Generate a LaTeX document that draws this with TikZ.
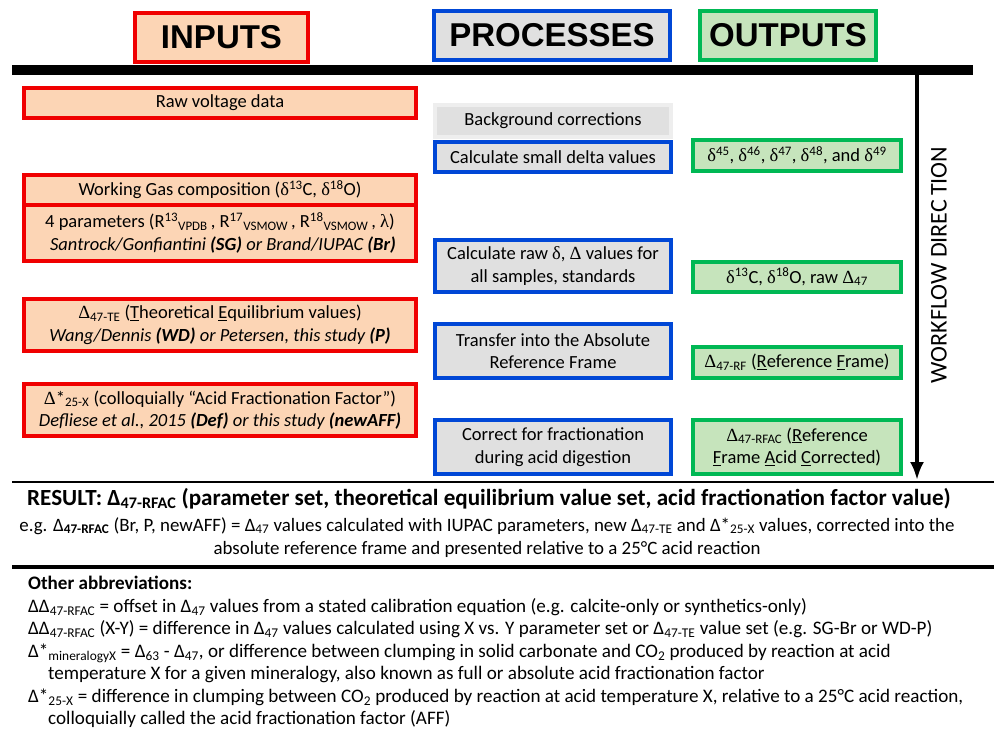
\documentclass[tikz,border=0pt]{standalone}
\usepackage{fontspec}
\setmainfont{Carlito}
\newfontfamily\headfont{Liberation Sans}
\newfontfamily\symfont{Liberation Serif}
\usetikzlibrary{arrows.meta}

\definecolor{inred}{RGB}{240,0,0}
\definecolor{infill}{RGB}{252,213,181}
\definecolor{problue}{RGB}{0,71,214}
\definecolor{profill}{RGB}{224,224,224}
\definecolor{outgreen}{RGB}{0,184,84}
\definecolor{outfill}{RGB}{198,228,188}
\definecolor{bgedge}{RGB}{238,238,238}

\newcommand{\sd}{{\symfont δ}}
\newcommand{\sD}{{\symfont Δ}}
\newcommand{\slam}{{\symfont λ}}
\newcommand{\bodysize}{\fontsize{18.5}{22.5}\selectfont}
\newcommand{\notesize}{\fontsize{19.1}{22.5}\selectfont}
\newcommand{\egsize}{\fontsize{18.9}{22.5}\selectfont}

\tikzset{
	box/.style={rectangle,line width=4pt,inner sep=0pt,align=center,font=\bodysize},
	inbox/.style={box,draw=inred,fill=infill,minimum width=392pt},
	probox/.style={box,draw=problue,fill=profill,minimum width=236pt},
	outbox/.style={box,draw=outgreen,fill=outfill,minimum width=208pt},
	headbox/.style={rectangle,line width=4pt,inner sep=0pt,minimum height=49pt,
		font=\headfont\bfseries\fontsize{33}{36}\selectfont},
	noteline/.style={anchor=base west,inner sep=0pt,font=\notesize},
}

\begin{document}
\begin{tikzpicture}[x=1pt,y=-1pt]
	\useasboundingbox (0,0) rectangle (994,729);

	% column headers
	\node[headbox,draw=inred,fill=infill,minimum width=173pt] (inputs) at (221.5,37) {INPUTS};
	\node[headbox,draw=problue,fill=profill,minimum width=236pt] (processes) at (552,35.5) {PROCESSES};
	\node[headbox,draw=outgreen,fill=outfill,minimum width=176pt] (outputs) at (788,35.5) {OUTPUTS};
	\draw[line width=10pt] (12,70) -- (973,70);

	% inputs
	\node[inbox,minimum height=30pt] (raw) at (220,103) {Raw voltage data};
	\node[inbox,minimum height=30pt] (wgas) at (220,190) {Working Gas composition (\sd\textsuperscript{13}C, \sd\textsuperscript{18}O)};
	\node[inbox,minimum height=56pt] (param) at (220,233) {4 parameters (R\textsuperscript{13}\textsubscript{VPDB}\,, R\textsuperscript{17}\textsubscript{VSMOW}\,, R\textsuperscript{18}\textsubscript{VSMOW}\,, \slam)\\
		\hspace*{6pt}\textit{Santrock/Gonfiantini \textbf{(SG)} or Brand/IUPAC \textbf{(Br)}}};
	\node[inbox,minimum height=52pt] (te) at (220,325) {\sD\textsubscript{47-TE} (\underline{T}heoretical \underline{E}quilibrium values)\\
		\textit{Wang/Dennis \textbf{(WD)} or Petersen, this study \textbf{(P)}}};
	\node[inbox,minimum height=52pt] (aff) at (220,410) {\sD*\textsubscript{25-X} (colloquially “Acid Fractionation Factor”)\\
		\textit{Defliese et al., 2015 \textbf{(Def)} or this study \textbf{(newAFF)}}};

	% processes
	\node[probox,draw=bgedge,minimum height=32pt] (bg) at (553,121) {Background corrections};
	\node[probox,minimum height=30pt] (small) at (553,157) {Calculate small delta values};
	\node[probox,minimum height=52pt] (rawd) at (553,266) {Calculate raw \sd, \sD\ values for\\ all samples, standards};
	\node[probox,minimum height=54pt] (transfer) at (553,351) {Transfer into the Absolute\\ Reference Frame};
	\node[probox,minimum height=54pt] (correct) at (553,447) {Correct for fractionation\\ during acid digestion};

	% outputs
	\node[outbox,minimum height=31pt] (d45) at (797,155.5) {\sd\textsuperscript{45}, \sd\textsuperscript{46}, \sd\textsuperscript{47}, \sd\textsuperscript{48}, and \sd\textsuperscript{49}};
	\node[outbox,minimum height=30pt] (d13) at (797,277) {\sd\textsuperscript{13}C, \sd\textsuperscript{18}O, raw \sD\textsubscript{47}};
	\node[outbox,minimum height=31pt] (rf) at (797,362.5) {\sD\textsubscript{47-RF} (\underline{R}eference \underline{F}rame)};
	\node[outbox,minimum height=54pt] (rfac) at (797,447) {\sD\textsubscript{47-RFAC} (\underline{R}eference\\ \underline{F}rame \underline{A}cid \underline{C}orrected)};

	% workflow arrow
	\coordinate (wtop) at (917,75);
	\coordinate (wend) at (917,480);
	\draw[line width=3.5pt,-{Latex[length=18pt,width=14pt]}] (wtop) -- (wend);
	\node[rotate=90,font=\fontsize{24}{28}\selectfont] (wdir) at (939,265) {WORKFLOW DIREC\,TION};

	\draw[line width=2.7pt] (12,482) -- (994,482);

	% result
	\node[anchor=base,inner sep=0pt,font=\bfseries\fontsize{23.1}{26}\selectfont] (result) at (489,505)
		{RESULT: Δ\textsubscript{47-RFAC} (parameter set, theoretical equilibrium value set, acid fractionation factor value)};
	\node[anchor=base,inner sep=0pt,font=\egsize] (eg1) at (487,531)
		{e.g. Δ\textsubscript{\textbf{47-RFAC}} (Br, P, newAFF) = Δ\textsubscript{47} values calculated with IUPAC parameters, new Δ\textsubscript{47-TE} and Δ*\textsubscript{25-X} values, corrected into the};
	\node[anchor=base,inner sep=0pt,font=\egsize] (eg2) at (487,554)
		{absolute reference frame and presented relative to a 25°C acid reaction};

	\draw[line width=4pt] (12,567) -- (994,567);

	% other abbreviations
	\node[noteline,font=\notesize\bfseries] (other) at (28,589) {Other abbreviations:};
	\node[noteline] (ab1) at (28,612) {ΔΔ\textsubscript{47-RFAC} = offset in Δ\textsubscript{47} values from a stated calibration equation (e.g. calcite-only or synthetics-only)};
	\node[noteline] (ab2) at (28,634.5) {ΔΔ\textsubscript{47-RFAC} (X-Y) = difference in Δ\textsubscript{47} values calculated using X vs. Y parameter set or Δ\textsubscript{47-TE} value set (e.g. SG-Br or WD-P)};
	\node[noteline] (ab3) at (28,657) {Δ*\textsubscript{mineralogyX} = Δ\textsubscript{63} - Δ\textsubscript{47}, or difference between clumping in solid carbonate and CO\textsubscript{2} produced by reaction at acid};
	\node[noteline] (ab3b) at (48,679) {temperature X for a given mineralogy, also known as full or absolute acid fractionation factor};
	\node[noteline] (ab4) at (28,702) {Δ*\textsubscript{25-X} = difference in clumping between CO\textsubscript{2} produced by reaction at acid temperature X, relative to a 25°C acid reaction,};
	\node[noteline] (ab4b) at (48,724) {colloquially called the acid fractionation factor (AFF)};

\end{tikzpicture}
\end{document}
